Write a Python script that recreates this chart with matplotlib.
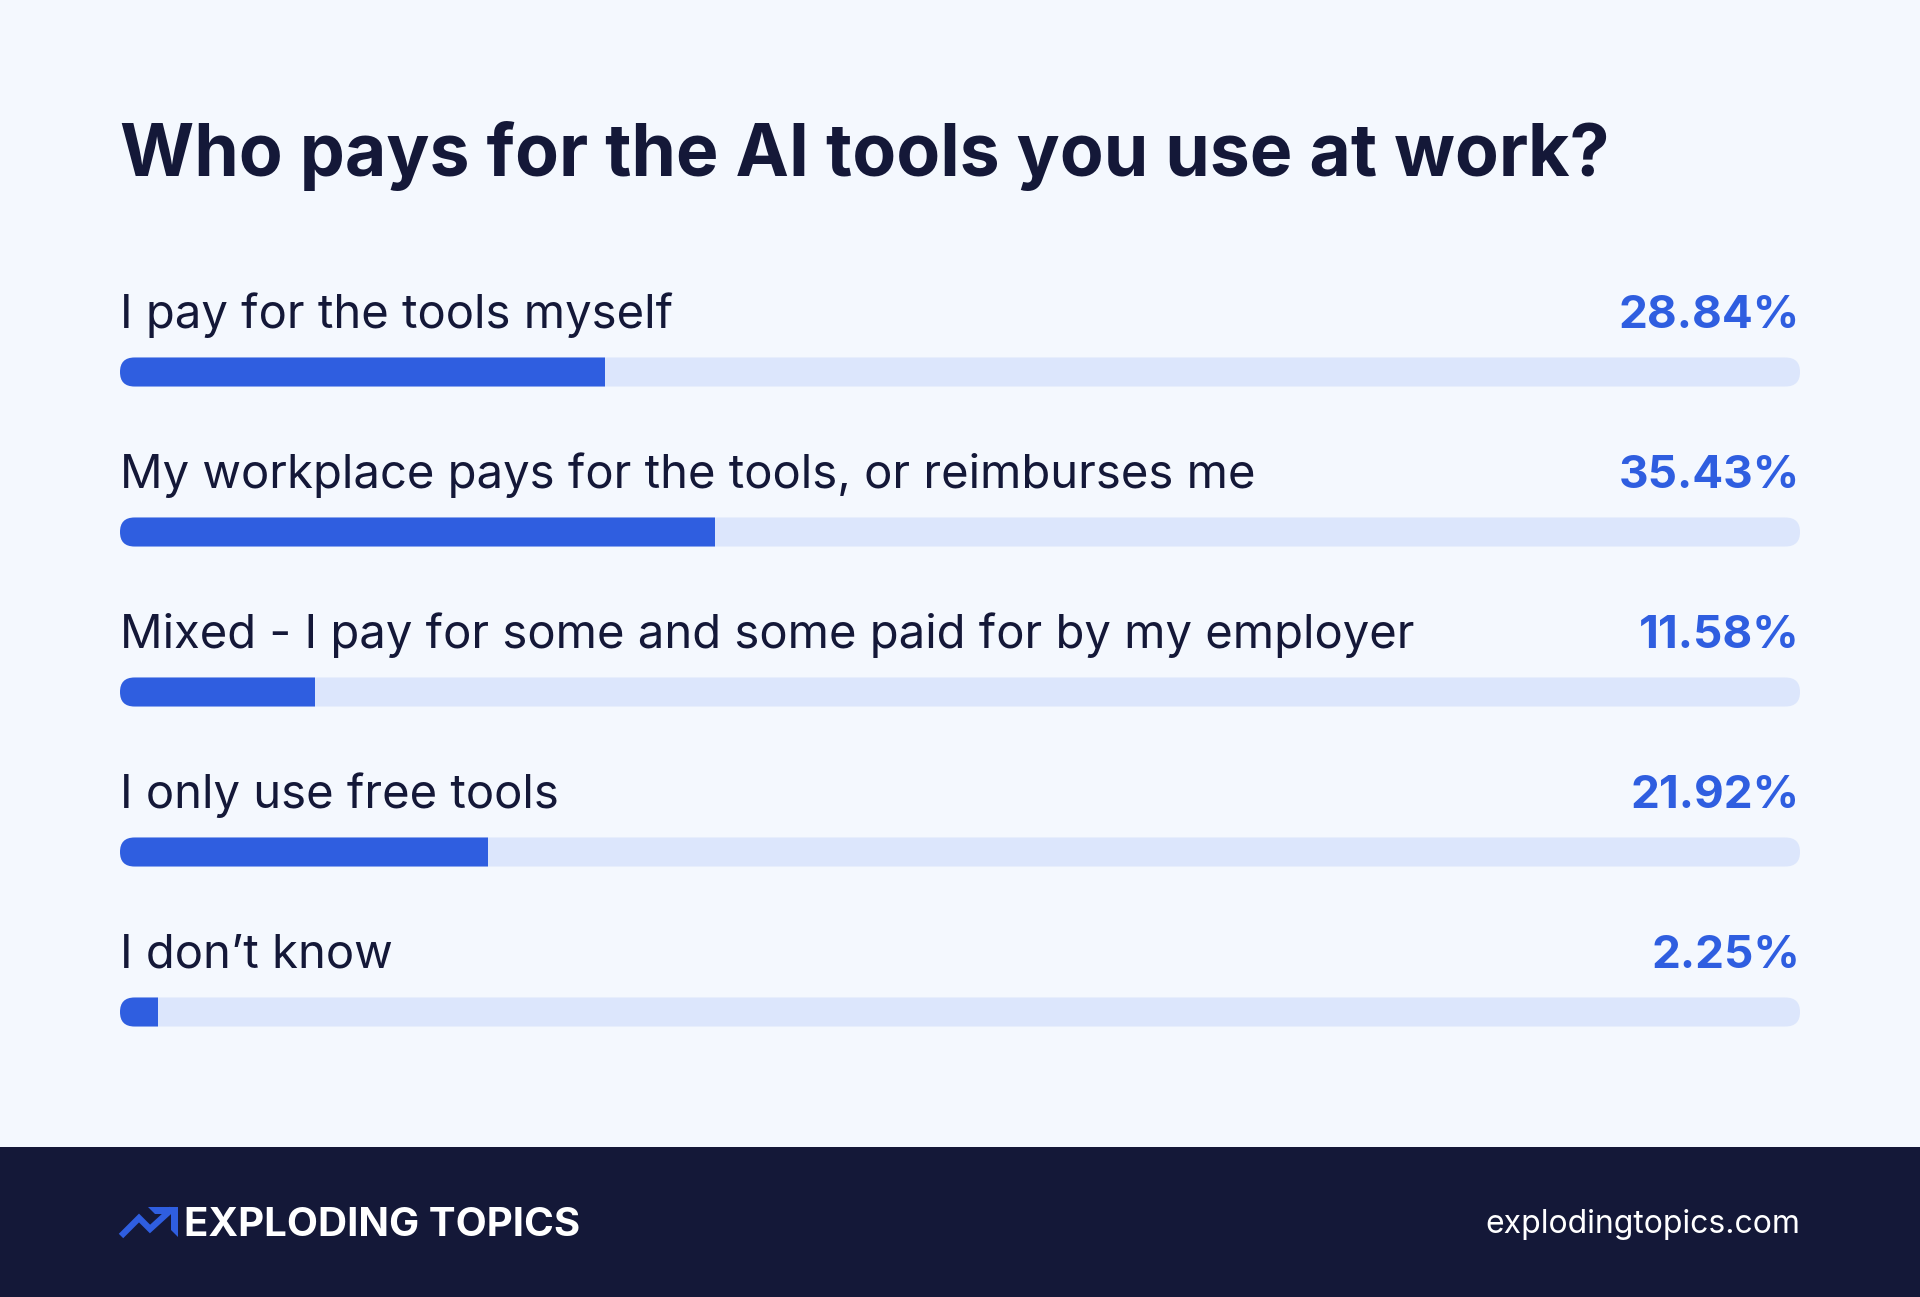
import matplotlib
matplotlib.use("Agg")
import matplotlib.pyplot as plt
from matplotlib.patches import FancyBboxPatch, Rectangle, Polygon
from matplotlib.lines import Line2D

# data
title = "Who pays for the AI tools you use at work?"
answers = [
    "I pay for the tools myself",
    "My workplace pays for the tools, or reimburses me",
    "Mixed - I pay for some and some paid for by my employer",
    "I only use free tools",
    "I don\u2019t know",
]
shares = [28.84, 35.43, 11.58, 21.92, 2.25]

BG = "#F4F8FE"
DARK = "#141838"
BLUE = "#2F5EE0"
TRACK = "#DCE6FC"
FONT = ["Inter", "Roboto", "DejaVu Sans"]

W, H = 1920, 1297
fig = plt.figure(figsize=(W / 100, H / 100), dpi=100, facecolor=BG)
ax = fig.add_axes([0, 0, 1, 1])
ax.set_xlim(0, W)
ax.set_ylim(H, 0)
ax.axis("off")
ax.set_facecolor(BG)

left, right = 120, 1800
track_w = right - left
bar_h = 29
first_bar, step = 372, 160

ax.text(left, 176, title, fontsize=51.5, fontweight="bold", color=DARK,
        family=FONT, va="baseline", ha="left")

for i, (label, val) in enumerate(zip(answers, shares)):
    yc = first_bar + i * step
    base = yc - 44
    ax.text(left, base, label, fontsize=34, color=DARK, family=FONT,
            va="baseline", ha="left")
    ax.text(right, base, f"{val:.2f}%", fontsize=33, fontweight="bold",
            color=BLUE, family=FONT, va="baseline", ha="right")
    track = FancyBboxPatch((left, yc - bar_h / 2), track_w, bar_h,
                           boxstyle=f"round,pad=0,rounding_size={bar_h / 2}",
                           facecolor=TRACK, edgecolor="none")
    ax.add_patch(track)
    fill = FancyBboxPatch((left, yc - bar_h / 2), track_w, bar_h,
                          boxstyle=f"round,pad=0,rounding_size={bar_h / 2}",
                          facecolor=BLUE, edgecolor="none")
    ax.add_patch(fill)
    clip = Rectangle((left, yc - bar_h / 2 - 2), track_w * val / 100, bar_h + 4,
                     transform=ax.transData, facecolor="none", edgecolor="none")
    ax.add_patch(clip)
    fill.set_clip_path(clip)

# footer
ax.add_patch(Rectangle((0, 1147), W, H - 1147, facecolor=DARK, edgecolor="none"))
ax.add_line(Line2D([121, 139, 150, 172], [1236, 1218, 1229, 1209],
                   color=BLUE, linewidth=4.5, solid_joinstyle="miter",
                   solid_capstyle="butt"))
ax.add_patch(Polygon([[148, 1207], [178, 1207], [178, 1237], [171, 1230],
                      [171, 1214], [155, 1214]], closed=True,
                     facecolor=BLUE, edgecolor="none"))
ax.text(184, 1236, "EXPLODING TOPICS", fontsize=29, fontweight="bold",
        color="white", family=FONT, va="baseline", ha="left")
ax.text(right, 1233, "explodingtopics.com", fontsize=23, color="white",
        family=FONT, va="baseline", ha="right")

fig.savefig("out.png", dpi=100, facecolor=BG)
